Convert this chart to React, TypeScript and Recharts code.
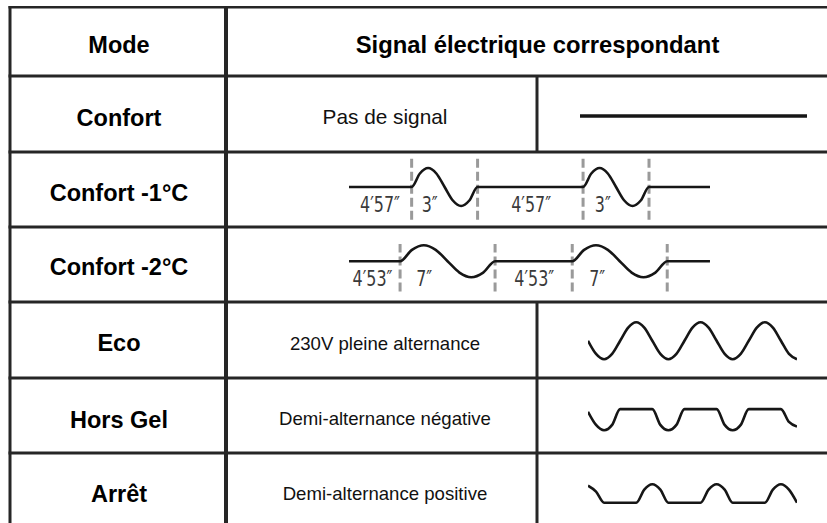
import { LineChart, Line, XAxis, YAxis, ReferenceLine, ReferenceDot } from 'recharts';

// table text
const MODES = ['Confort', 'Confort -1°C', 'Confort -2°C', 'Eco', 'Hors Gel', 'Arrêt'];
const SIGNALS = ['Pas de signal', '', '', '230V pleine alternance', 'Demi-alternance négative', 'Demi-alternance positive'];
const HEAD_MODE = 'Mode';
const HEAD_SIGNAL = 'Signal électrique correspondant';

// pas de signal : flat line
const CONFORT_T = [0, 1];
const CONFORT_V = [0, 0];

// confort -1°C : long pause, short 3" sine burst
const C1_T = [0, 7.6, 8.6, 9.6, 10.6, 11.6, 12.6, 13.6, 14.6, 15.6, 28.4, 29.4, 30.4, 31.4, 32.4, 33.4, 34.4, 35.4, 36.4, 43.8];
const C1_V = [0, 0, 0.71, 1, 0.71, 0, -0.71, -1, -0.71, 0, 0, 0.71, 1, 0.71, 0, -0.71, -1, -0.71, 0, 0];
const C1_MARKS = [7.6, 15.6, 28.4, 36.4];
const C1_LABELS = ['4′57″', '3″', '4′57″', '3″'];
const C1_LABEL_T = [3.76, 9.8, 22.1, 30.8];

// confort -2°C : same idea with 7" burst
const C2_T = [0, 4.3, 5.3, 6.3, 7.3, 8.3, 9.3, 10.3, 11.3, 12.3, 18.8, 19.8, 20.8, 21.8, 22.8, 23.8, 24.8, 25.8, 26.8, 30.4];
const C2_V = [0, 0, 0.71, 1, 0.71, 0, -0.71, -1, -0.71, 0, 0, 0.71, 1, 0.71, 0, -0.71, -1, -0.71, 0, 0];
const C2_MARKS = [4.3, 12.3, 18.8, 26.8];
const C2_LABELS = ['4′53″', '7″', '4′53″', '7″'];
const C2_LABEL_T = [1.98, 6.33, 15.6, 20.9];

// eco / hors gel / arrêt, one sample every 1/8 period
const ECO_V = [0, -0.71, -1, -0.71, 0, 0.71, 1, 0.71, 0, -0.71, -1, -0.71, 0, 0.71, 1, 0.71, 0, -0.71, -1, -0.71, 0, 0.71, 1, 0.71, 0, -0.71, -1];
const HORS_GEL_V = [0, -0.71, -1, -0.71, 0.14, 0.14, 0.14, 0.14, 0.14, -0.71, -1, -0.71, 0.14, 0.14, 0.14, 0.14, 0.14, -0.71, -1, -0.71, 0.14, 0.14, 0.14, 0.14, 0.14, -0.55, -0.8];
const ARRET_V = [0.92, 0.6, 0, 0, 0, 0, 0, 0.71, 1, 0.71, 0, 0, 0, 0, 0, 0.71, 1, 0.71, 0, 0, 0, 0, 0, 0.71, 1, 0.71, 0];

const toData = (t: number[], v: number[]) => t.map((x, i) => ({ t: x, v: v[i] }));
const stepData = (v: number[]) => v.map((y, i) => ({ t: i, v: y }));

const LINE = '#262626';
const FONT = '"Liberation Sans", Arial, Helvetica, sans-serif';
const NARROW = '"Liberation Sans Narrow", "DejaVu Sans Condensed", "Liberation Sans", sans-serif';

// grid
const ROW_LINES = [76, 152, 227, 302, 378, 453];
const MODE_BASE = [125.7, 200.7, 275, 350.7, 428.3, 501.7];
const SIGNAL_BASE = [123.5, 0, 0, 350, 425, 500];

interface WaveProps {
  data: { t: number; v: number }[];
  x0: number;
  x1: number;
  yMid: number;
  amp: number;
  yDomain: [number, number];
  strokeWidth?: number;
  children?: React.ReactNode;
}

function Wave({ data, x0, x1, yMid, amp, yDomain, strokeWidth = 2.6, children }: WaveProps) {
  const pad = 4;
  const top = yMid - yDomain[1] * amp;
  const height = (yDomain[1] - yDomain[0]) * amp;
  const tDomain = [data[0].t, data[data.length - 1].t];
  return (
    <div style={{ position: 'absolute', left: x0 - pad, top }}>
      <LineChart width={x1 - x0 + 2 * pad} height={height} data={data} margin={{ top: 0, right: pad, bottom: 0, left: pad }}>
        <XAxis dataKey="t" type="number" domain={tDomain} hide allowDataOverflow />
        <YAxis type="number" domain={yDomain} hide allowDataOverflow />
        {children}
        <Line type="monotone" dataKey="v" stroke="#161616" strokeWidth={strokeWidth} dot={false} isAnimationActive={false} />
      </LineChart>
    </div>
  );
}

const labelShape = (text: string) => (p: any) => (
  <text
    x={p.cx}
    y={p.cy}
    textAnchor="middle"
    fontFamily={NARROW}
    fontSize={20.5}
    fill="#3a3a3a"
    textLength={text.length * 8}
    lengthAdjust="spacingAndGlyphs"
  >
    {text}
  </text>
);

function marks(ts: number[], lo: number, hi: number) {
  return ts.map((t, i) => (
    <ReferenceLine
      key={'m' + i}
      segment={[{ x: t, y: lo }, { x: t, y: hi }]}
      stroke="#9a9a9a"
      strokeWidth={3}
      strokeDasharray="9 4"
      ifOverflow="visible"
    />
  ));
}

function labels(ts: number[], texts: string[], y: number) {
  return ts.map((t, i) => (
    <ReferenceDot key={'l' + i} x={t} y={y} r={0} ifOverflow="visible" shape={labelShape(texts[i])} />
  ));
}

export default function App() {
  return (
    <div style={{ position: 'relative', width: 827, height: 523, overflow: 'hidden', background: '#fff' }}>
      <style>{'body{margin:0;background:#fff}'}</style>
      <svg width={827} height={523} style={{ position: 'absolute', left: 0, top: 0 }}>
        <line x1={8.5} x2={827} y1={7.2} y2={7.2} stroke={LINE} strokeWidth={2.5} />
        <line x1={10} x2={10} y1={6} y2={523} stroke={LINE} strokeWidth={3} />
        <line x1={226} x2={226} y1={6} y2={523} stroke={LINE} strokeWidth={4} />
        {ROW_LINES.map((y) => (
          <line key={y} x1={8.5} x2={827} y1={y} y2={y} stroke={LINE} strokeWidth={3} />
        ))}
        <line x1={537} x2={537} y1={76} y2={152} stroke={LINE} strokeWidth={3} />
        <line x1={537} x2={537} y1={302} y2={523} stroke={LINE} strokeWidth={3} />

        <text x={119} y={53.3} textAnchor="middle" fontFamily={FONT} fontWeight="bold" fontSize={23.5} fill="#000">
          {HEAD_MODE}
        </text>
        <text x={537.5} y={53.3} textAnchor="middle" fontFamily={FONT} fontWeight="bold" fontSize={23.8} fill="#000">
          {HEAD_SIGNAL}
        </text>
        {MODES.map((m, i) => (
          <text key={m} x={119} y={MODE_BASE[i]} textAnchor="middle" fontFamily={FONT} fontWeight="bold" fontSize={23.5} fill="#000">
            {m}
          </text>
        ))}
        {SIGNALS.map((s, i) =>
          s ? (
            <text key={s} x={385} y={SIGNAL_BASE[i]} textAnchor="middle" fontFamily={FONT} fontSize={i === 0 ? 20.8 : 18.6} fill="#111">
              {s}
            </text>
          ) : null
        )}
      </svg>

      <Wave data={toData(CONFORT_T, CONFORT_V)} x0={580} x1={807} yMid={115.7} amp={10} yDomain={[-1, 1]} strokeWidth={3.6} />

      <Wave data={toData(C1_T, C1_V)} x0={349} x1={710} yMid={187.3} amp={19} yDomain={[-2, 2]}>
        {marks(C1_MARKS, -1.72, 1.49)}
        {labels(C1_LABEL_T, C1_LABELS, -1.3)}
      </Wave>

      <Wave data={toData(C2_T, C2_V)} x0={349} x1={710} yMid={261} amp={16} yDomain={[-2.2, 2.2]}>
        {marks(C2_MARKS, -1.89, 1.08)}
        {labels(C2_LABEL_T, C2_LABELS, -1.54)}
      </Wave>

      <Wave data={stepData(ECO_V)} x0={588} x1={797} yMid={340.5} amp={18.5} yDomain={[-1.5, 1.5]} />
      <Wave data={stepData(HORS_GEL_V)} x0={588} x1={797} yMid={412} amp={18.5} yDomain={[-1.5, 1.5]} />
      <Wave data={stepData(ARRET_V)} x0={588} x1={797} yMid={503} amp={18.5} yDomain={[-1.5, 1.5]} />
    </div>
  );
}
